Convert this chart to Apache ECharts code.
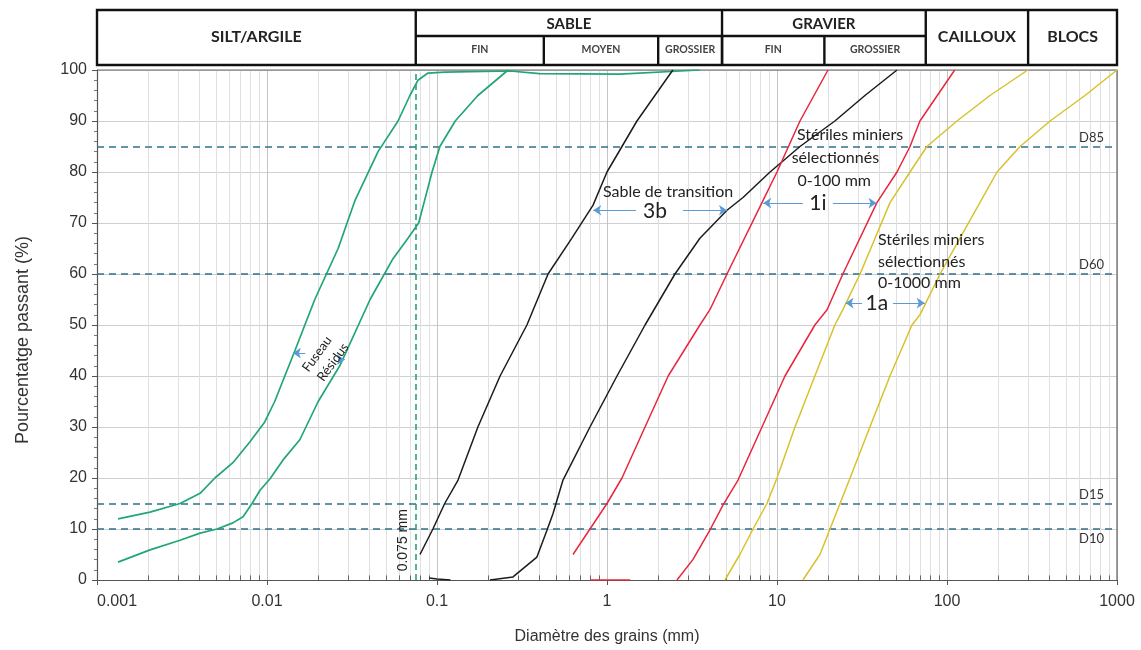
<!DOCTYPE html>
<html>
<head>
<meta charset="utf-8">
<script src="https://cdn.jsdelivr.net/npm/echarts@6/dist/echarts.min.js"></script>
<style>
  html, body { margin: 0; padding: 0; background: #ffffff; }
  #chart { width: 1141px; height: 650px; }
</style>
</head>
<body>
<div id="chart"></div>
<script>
// Courbes granulométriques : [diamètre (mm), pourcentage passant (%)]
const fuseauResidusHaut = [
  [0.00133, 12], [0.00205, 13.3], [0.00308, 15], [0.00404, 17], [0.00494, 20],
  [0.0063, 23], [0.0079, 27], [0.0097, 31], [0.0111, 35], [0.0146, 45],
  [0.0191, 55], [0.0262, 65], [0.033, 74.5], [0.045, 84], [0.059, 90],
  [0.0693, 95], [0.0773, 98], [0.0885, 99.4], [0.111, 99.6], [0.27, 99.8],
  [0.40, 99.3], [1.19, 99.2], [3.5, 100]
];
const fuseauResidusBas = [
  [0.00133, 3.5], [0.00205, 5.9], [0.00308, 7.8], [0.00404, 9.2], [0.00508, 10],
  [0.0063, 11.2], [0.00723, 12.4], [0.00817, 15], [0.0091, 17.6], [0.0104, 19.8],
  [0.0124, 23.5], [0.0156, 27.5], [0.020, 35], [0.0268, 42], [0.0404, 55],
  [0.0551, 63], [0.0675, 67], [0.078, 70], [0.087, 76], [0.0935, 80],
  [0.104, 85], [0.128, 90], [0.174, 95], [0.262, 100]
];
const sableTransitionFin = [
  [0.0794, 5], [0.0946, 10], [0.111, 15], [0.133, 19.6], [0.174, 30],
  [0.235, 40], [0.338, 50], [0.45, 60], [0.62, 67], [0.828, 73.5],
  [1.0, 80], [1.5, 90], [2.44, 100]
];
const sableTransitionFinBase = [[0.09, 0.4], [0.1, 0.2], [0.12, 0]];
const sableTransitionGrossier = [
  [0.205, 0], [0.28, 0.6], [0.387, 4.5], [0.444, 9.8], [0.481, 13],
  [0.551, 19.6], [0.794, 30], [1.145, 40], [1.674, 50], [2.51, 60],
  [3.52, 67], [5.08, 72.5], [6.31, 75], [9.1, 80], [13.65, 85],
  [21.9, 90], [32.9, 95], [50.8, 100]
];
const steriles100Fin = [
  [0.631, 5], [0.794, 10], [1.0, 15], [1.225, 20], [1.674, 30],
  [2.29, 40], [3.52, 50], [4.03, 53], [5.08, 60], [8.16, 74],
  [10, 80], [13.65, 90], [19.95, 100]
];
const steriles100FinBase = [[0.8, 0], [1.37, 0]];
const steriles100Grossier = [
  [2.58, 0], [3.2, 4], [4.03, 9.8], [4.81, 14.7], [5.9, 19.6],
  [8.16, 30], [11.14, 40], [16.7, 50], [19.7, 53], [24.4, 60],
  [38.7, 74], [50.8, 80], [60.6, 85], [69.3, 90], [111, 100]
];
const steriles1000Fin = [
  [4.94, 0], [6.05, 5], [7.23, 10], [8.73, 15], [10, 20],
  [12.76, 30], [16.7, 40], [21.9, 50], [24.4, 53], [30.8, 60],
  [46.2, 74], [60.6, 80], [76.2, 85], [114.5, 90], [179, 95], [299, 100]
];
const steriles1000Grossier = [
  [14.2, 0], [17.9, 5], [20.5, 10], [26.9, 20], [35.2, 30],
  [46.2, 40], [62.2, 50], [69.3, 52], [91, 60], [119, 67],
  [197, 80], [269, 85], [404, 90], [648, 95], [1000, 100]
];

// Graduations et repères
const xTickLabels = ['0.001', '0.01', '0.1', '1', '10', '100', '1000'];
const yTickLabels = ['0', '10', '20', '30', '40', '50', '60', '70', '80', '90', '100'];
const diametresCaracteristiques = ['D10', 'D15', 'D60', 'D85'];
const pourcentagesD = [10, 15, 60, 85];
const tamisFin = 0.075;

// Classes granulométriques (limites en mm)
const classesPrincipales = ['SILT/ARGILE', 'SABLE', 'GRAVIER', 'CAILLOUX', 'BLOCS'];
const limitesPrincipales = [0.001, 0.075, 4.75, 75, 300, 1000];
const sousClasses = ['FIN', 'MOYEN', 'GROSSIER', 'FIN', 'GROSSIER'];
const limitesSousClasses = [0.075, 0.425, 2, 4.75, 19, 75];

// Traits secondaires de la grille logarithmique (2 à 9 par décade)
const minorValues = [];
for (let e = -3; e < 3; e++) {
  for (let m = 2; m <= 9; m++) minorValues.push(+(m * Math.pow(10, e)).toPrecision(3));
}

const GREEN = '#22a674';
const BLACK = '#1c1c1c';
const RED = '#e8263d';
const YELLOW = '#d8c22c';
const DASH = '#2d7189';
const ARROW = '#5b9bd5';
const LABEL_FONT = 'Lato';
const AXIS_FONT = 'Liberation Sans';

function curve(name, data, color, width) {
  return {
    name, type: 'line', data, showSymbol: false, symbol: 'none',
    lineStyle: { color, width: width || 1.7 }, z: 5, silent: true, animation: false
  };
}

// segments tracés dans le repère des axes
function segments(name, coordsList, lineStyle, z, symbol) {
  return {
    name, type: 'lines', coordinateSystem: 'cartesian2d', silent: true, animation: false,
    z: z, symbol: symbol || 'none', symbolSize: [6, 8],
    lineStyle: Object.assign({ opacity: 1, curveness: 0 }, lineStyle),
    data: coordsList.map(c => ({ coords: c }))
  };
}

const chart = echarts.init(document.getElementById('chart'), null, { renderer: 'canvas' });

const option = {
  backgroundColor: '#ffffff',
  animation: false,
  grid: { left: 97, right: 24, top: 70, bottom: 70, containLabel: false },
  xAxis: {
    type: 'log', logBase: 10, min: 0.001, max: 1000,
    name: 'Diamètre des grains (mm)', nameLocation: 'middle', nameGap: 49,
    nameTextStyle: { fontFamily: AXIS_FONT, fontSize: 16, color: '#333' },
    axisLine: { show: true, lineStyle: { color: '#555', width: 1.2 } },
    axisTick: { show: true, length: 5, inside: false, lineStyle: { color: '#555' } },
    axisLabel: {
      fontFamily: AXIS_FONT, fontSize: 16, color: '#333', margin: 14,
      formatter: (v) => xTickLabels[Math.round(Math.log10(v)) + 3],
      alignMinLabel: 'left', alignMaxLabel: 'center'
    },
    splitLine: { show: true, lineStyle: { color: '#c4c4c4', width: 1 } }
  },
  yAxis: {
    type: 'value', min: 0, max: 100, interval: 10,
    axisLine: { show: true, lineStyle: { color: '#555', width: 1.2 } },
    axisTick: { show: true, length: 5, lineStyle: { color: '#555' } },
    minorTick: { show: true, splitNumber: 5, length: 3, lineStyle: { color: '#777' } },
    axisLabel: {
      fontFamily: AXIS_FONT, fontSize: 16, color: '#333', margin: 10,
      formatter: (v) => yTickLabels[Math.round(v / 10)]
    },
    splitLine: { show: true, lineStyle: { color: '#cfcfcf', width: 1 } }
  },
  series: [
    segments('grille secondaire', minorValues.map(v => [[v, 0], [v, 100]]),
      { color: '#e0e0e0', width: 1 }, 1),
    segments('graduations secondaires', minorValues.map(v => [[v, 0], [v, 0.9]]),
      { color: '#666', width: 1 }, 2),
    segments('diamètres caractéristiques', pourcentagesD.map(p => [[0.001, p], [1000, p]]),
      { color: DASH, width: 1.6, type: [7, 5] }, 3),
    segments('tamis 0,075 mm', [[[tamisFin, 0], [tamisFin, 100]]],
      { color: GREEN, width: 1.6, type: [6, 4] }, 3),
    segments('flèches', [
      [[0.0168, 44.5], [0.0142, 44.5]],
      [[0.0262, 43.2], [0.0287, 43.2]],
      [[1.48, 72.5], [0.83, 72.5]],
      [[2.8, 72.5], [5.08, 72.5]],
      [[14.2, 73.9], [8.3, 73.9]],
      [[21.3, 73.9], [38.5, 73.9]],
      [[31.6, 54.3], [25.3, 54.3]],
      [[48.1, 54.3], [74, 54.3]]
    ], { color: ARROW, width: 1 }, 6, ['none', 'arrow']),
    curve('Fuseau résidus (haut)', fuseauResidusHaut, GREEN),
    curve('Fuseau résidus (bas)', fuseauResidusBas, GREEN),
    curve('Sable de transition (fin)', sableTransitionFin, BLACK, 1.5),
    curve('Sable de transition (base)', sableTransitionFinBase, BLACK, 1.5),
    curve('Sable de transition (grossier)', sableTransitionGrossier, BLACK, 1.5),
    curve('Stériles 0-100 mm (fin)', steriles100Fin, RED, 1.5),
    curve('Stériles 0-100 mm (base)', steriles100FinBase, RED, 1.5),
    curve('Stériles 0-100 mm (grossier)', steriles100Grossier, RED, 1.5),
    curve('Stériles 0-1000 mm (fin)', steriles1000Fin, YELLOW, 1.5),
    curve('Stériles 0-1000 mm (grossier)', steriles1000Grossier, YELLOW, 1.5)
  ]
};

chart.setOption(option);

// Tableau des classes et annotations, placés à partir des coordonnées du graphique
const px = (x, y) => chart.convertToPixel({ gridIndex: 0 }, [x, y]);
const HEADER_TOP = 10, HEADER_MID = 36, HEADER_BOTTOM = 65;
const graphics = [];

const xLeft = px(0.001, 0)[0], xRight = px(1000, 0)[0];
graphics.push({
  type: 'rect', z: 20,
  shape: { x: xLeft, y: HEADER_TOP, width: xRight - xLeft, height: HEADER_BOTTOM - HEADER_TOP },
  style: { fill: '#fff', stroke: '#111', lineWidth: 2.4 }
});
for (let i = 1; i < limitesPrincipales.length - 1; i++) {
  const x = px(limitesPrincipales[i], 0)[0];
  graphics.push({ type: 'line', z: 21, shape: { x1: x, y1: HEADER_TOP, x2: x, y2: HEADER_BOTTOM },
    style: { stroke: '#111', lineWidth: 2.4 } });
}
{
  const x1 = px(limitesSousClasses[0], 0)[0], x2 = px(limitesSousClasses[limitesSousClasses.length - 1], 0)[0];
  graphics.push({ type: 'line', z: 21, shape: { x1, y1: HEADER_MID, x2, y2: HEADER_MID },
    style: { stroke: '#111', lineWidth: 2.4 } });
}
for (let i = 1; i < limitesSousClasses.length - 1; i++) {
  const x = px(limitesSousClasses[i], 0)[0];
  graphics.push({ type: 'line', z: 21, shape: { x1: x, y1: HEADER_MID, x2: x, y2: HEADER_BOTTOM },
    style: { stroke: '#111', lineWidth: 2.4 } });
}
classesPrincipales.forEach((name, i) => {
  const xa = px(limitesPrincipales[i], 0)[0], xb = px(limitesPrincipales[i + 1], 0)[0];
  const twoRows = name === 'SABLE' || name === 'GRAVIER';
  graphics.push({
    type: 'text', z: 22, x: (xa + xb) / 2, y: twoRows ? (HEADER_TOP + HEADER_MID) / 2 + 1 : (HEADER_TOP + HEADER_BOTTOM) / 2 - 1,
    style: { text: name, fill: '#222', font: 'bold ' + (twoRows ? 15 : 16) + 'px ' + LABEL_FONT,
      align: 'center', verticalAlign: 'middle' }
  });
});
sousClasses.forEach((name, i) => {
  const xa = px(limitesSousClasses[i], 0)[0], xb = px(limitesSousClasses[i + 1], 0)[0];
  graphics.push({
    type: 'text', z: 22, x: (xa + xb) / 2, y: (HEADER_MID + HEADER_BOTTOM) / 2 - 1,
    style: { text: name, fill: '#444', font: 'bold 10.5px ' + LABEL_FONT, align: 'center', verticalAlign: 'middle' }
  });
});

// cadre du graphique (haut et droite)
graphics.push({ type: 'polyline', z: 4,
  shape: { points: [[xLeft, px(1000, 100)[1]], [xRight, px(1000, 100)[1]], [xRight, px(1000, 0)[1]]] },
  style: { stroke: '#666', lineWidth: 1.2, fill: null } });

// titre de l'axe vertical
{
  const top = px(0.001, 100)[1], bottom = px(0.001, 0)[1];
  graphics.push({
    type: 'text', z: 8, x: 23, y: (top + bottom) / 2 + 15, rotation: Math.PI / 2,
    style: { text: 'Pourcentatge passant (%)', fill: '#333', font: '18px ' + AXIS_FONT,
      align: 'center', verticalAlign: 'middle' }
  });
}

// étiquettes D10, D15, D60, D85
const dLabelX = xRight - 13;
diametresCaracteristiques.forEach((name, i) => {
  const y = px(1, pourcentagesD[i])[1];
  const below = name === 'D10';
  graphics.push({
    type: 'text', z: 8, x: dLabelX, y: below ? y + 10 : y - 9,
    style: { text: name, fill: '#333', font: '13px ' + LABEL_FONT, align: 'right', verticalAlign: 'middle' }
  });
});

// 0,075 mm (vertical)
{
  const p = px(0.063, 7.8);
  graphics.push({
    type: 'text', z: 8, x: p[0], y: p[1], rotation: Math.PI / 2,
    style: { text: '0.075 mm', fill: '#222', font: '14px ' + AXIS_FONT, align: 'center', verticalAlign: 'middle' }
  });
}

function note(text, at, font, opts) {
  const p = px(at[0], at[1]);
  graphics.push(Object.assign({
    type: 'text', z: 8, x: p[0], y: p[1],
    style: Object.assign({ text, fill: '#222', font, align: 'left', verticalAlign: 'middle' }, (opts && opts.style) || {})
  }, (opts && opts.el) || {}));
}
const deg = Math.PI / 180;
note('Fuseau', [0.0197, 44.3], '13px ' + LABEL_FONT, { style: { align: 'center' }, el: { rotation: 54 * deg } });
note('Résidus', [0.0244, 42.7], '13px ' + LABEL_FONT, { style: { align: 'center' }, el: { rotation: 54 * deg } });
note('Sable de transition', [0.946, 76.1], '16px ' + LABEL_FONT);
note('3b', [1.915, 72.4], '21px ' + LABEL_FONT, { style: { align: 'center' } });
note('Stériles miniers', [13.1, 87.3], '16px ' + LABEL_FONT);
note('sélectionnés', [12.2, 82.7], '16px ' + LABEL_FONT);
note('0-100 mm', [13.2, 78.2], '16px ' + LABEL_FONT);
note('1i', [17.4, 73.9], '21px ' + LABEL_FONT, { style: { align: 'center' } });
note('Stériles miniers', [39.3, 66.7], '16px ' + LABEL_FONT);
note('sélectionnés', [39.3, 62.4], '16px ' + LABEL_FONT);
note('0-1000 mm', [39.3, 58.2], '16px ' + LABEL_FONT);
note('1a', [38.7, 54.3], '21px ' + LABEL_FONT, { style: { align: 'center' } });

chart.setOption({ graphic: graphics });
</script>
</body>
</html>
